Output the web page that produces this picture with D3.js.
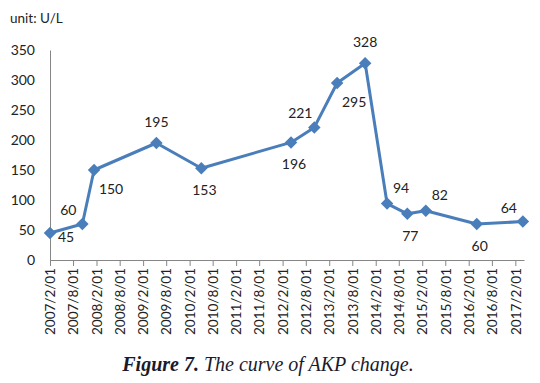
<!DOCTYPE html>
<html><head><meta charset="utf-8">
<script src="https://cdn.jsdelivr.net/npm/d3@7"></script>
<style>body{margin:0;background:#fff}</style>
</head><body>
<svg id="c" width="540" height="383"></svg>
<script>
const dates = ["2007/2/01","2007/10/13","2008/1/13","2009/5/16","2010/5/04","2012/4/07","2012/10/07","2013/4/04","2013/11/10","2014/5/01","2014/10/07","2015/3/01","2016/4/04","2017/4/01"];
const values = [45,60,150,195,153,196,221,295,328,94,77,82,60,64];
const labelPlacement = ["right","above-left","below-right","above","below","below","above-left","below-right","above","above-right","below","above-right","below","above-left"];
const xTickLabels = ["2007/2/01","2007/8/01","2008/2/01","2008/8/01","2009/2/01","2009/8/01","2010/2/01","2010/8/01","2011/2/01","2011/8/01","2012/2/01","2012/8/01","2013/2/01","2013/8/01","2014/2/01","2014/8/01","2015/2/01","2015/8/01","2016/2/01","2016/8/01","2017/2/01"];
const yTicks = [0,50,100,150,200,250,300,350];

const parse = d3.timeParse("%Y/%m/%d");
const svg = d3.select("#c");
const font = "Lato, 'Liberation Sans', sans-serif";

const x = d3.scaleTime().domain([parse("2007/2/01"), parse("2017/4/10")]).range([50, 524]);
const y = d3.scaleLinear().domain([0, 350]).range([260, 50]);

// unit label
svg.append("text").attr("x", 10).attr("y", 23).attr("font-family", font).attr("font-size", 13.5).attr("fill", "#222").text("unit: U/L");

// y axis
const ya = svg.append("g").attr("transform", "translate(50,0)")
  .call(d3.axisLeft(y).tickValues(yTicks).tickSize(0).tickPadding(15).tickFormat(d3.format("d")));
ya.select(".domain").attr("stroke", "#868686");
ya.selectAll("text").attr("font-family", font).attr("font-size", 14).attr("fill", "#222");

// x axis
const xa = svg.append("g").attr("transform", "translate(0,260)")
  .call(d3.axisBottom(x).tickValues(xTickLabels.map(parse)).tickSize(6).tickSizeOuter(0)
    .tickFormat((d, i) => xTickLabels[i]));
xa.select(".domain").attr("stroke", "#868686");
xa.selectAll(".tick line").attr("stroke", "#868686");
xa.selectAll("text").attr("font-family", font).attr("font-size", 13.5).attr("fill", "#222")
  .attr("text-anchor", "end").attr("transform", "rotate(-90)")
  .attr("x", -8).attr("y", 0).attr("dy", "0.35em").attr("dx", 0);

const pts = dates.map((d, i) => ({ date: parse(d), v: values[i], p: labelPlacement[i] }));
const color = "#4a7ebb";

svg.append("path").datum(pts)
  .attr("d", d3.line().x(d => x(d.date)).y(d => y(d.v)))
  .attr("fill", "none").attr("stroke", color).attr("stroke-width", 3).attr("stroke-linejoin", "round");

svg.selectAll(".m").data(pts).enter().append("path")
  .attr("transform", d => `translate(${x(d.date)},${y(d.v)})`)
  .attr("d", d3.symbol().type(d3.symbolDiamond2).size(100))
  .attr("fill", color);

const off = {
  "right": [16, 4], "above-left": [-14, -14], "below-right": [17, 19], "above": [0, -21],
  "below": [3, 22], "above-right": [14, -16]
};
svg.selectAll(".lab").data(pts).enter().append("text")
  .attr("x", d => x(d.date) + off[d.p][0])
  .attr("y", d => y(d.v) + off[d.p][1])
  .attr("dy", "0.35em").attr("text-anchor", "middle")
  .attr("font-family", font).attr("font-size", 14).attr("fill", "#222")
  .text(d => d.v);

// caption
const cap = svg.append("text").attr("x", 268).attr("y", 371).attr("text-anchor", "middle")
  .attr("font-family", "'Liberation Serif', serif").attr("font-size", 20).attr("font-style", "italic").attr("fill", "#1a1a2e");
cap.append("tspan").attr("font-weight", "bold").text("Figure 7.");
cap.append("tspan").text(" The curve of AKP change.");
</script>
</body></html>
